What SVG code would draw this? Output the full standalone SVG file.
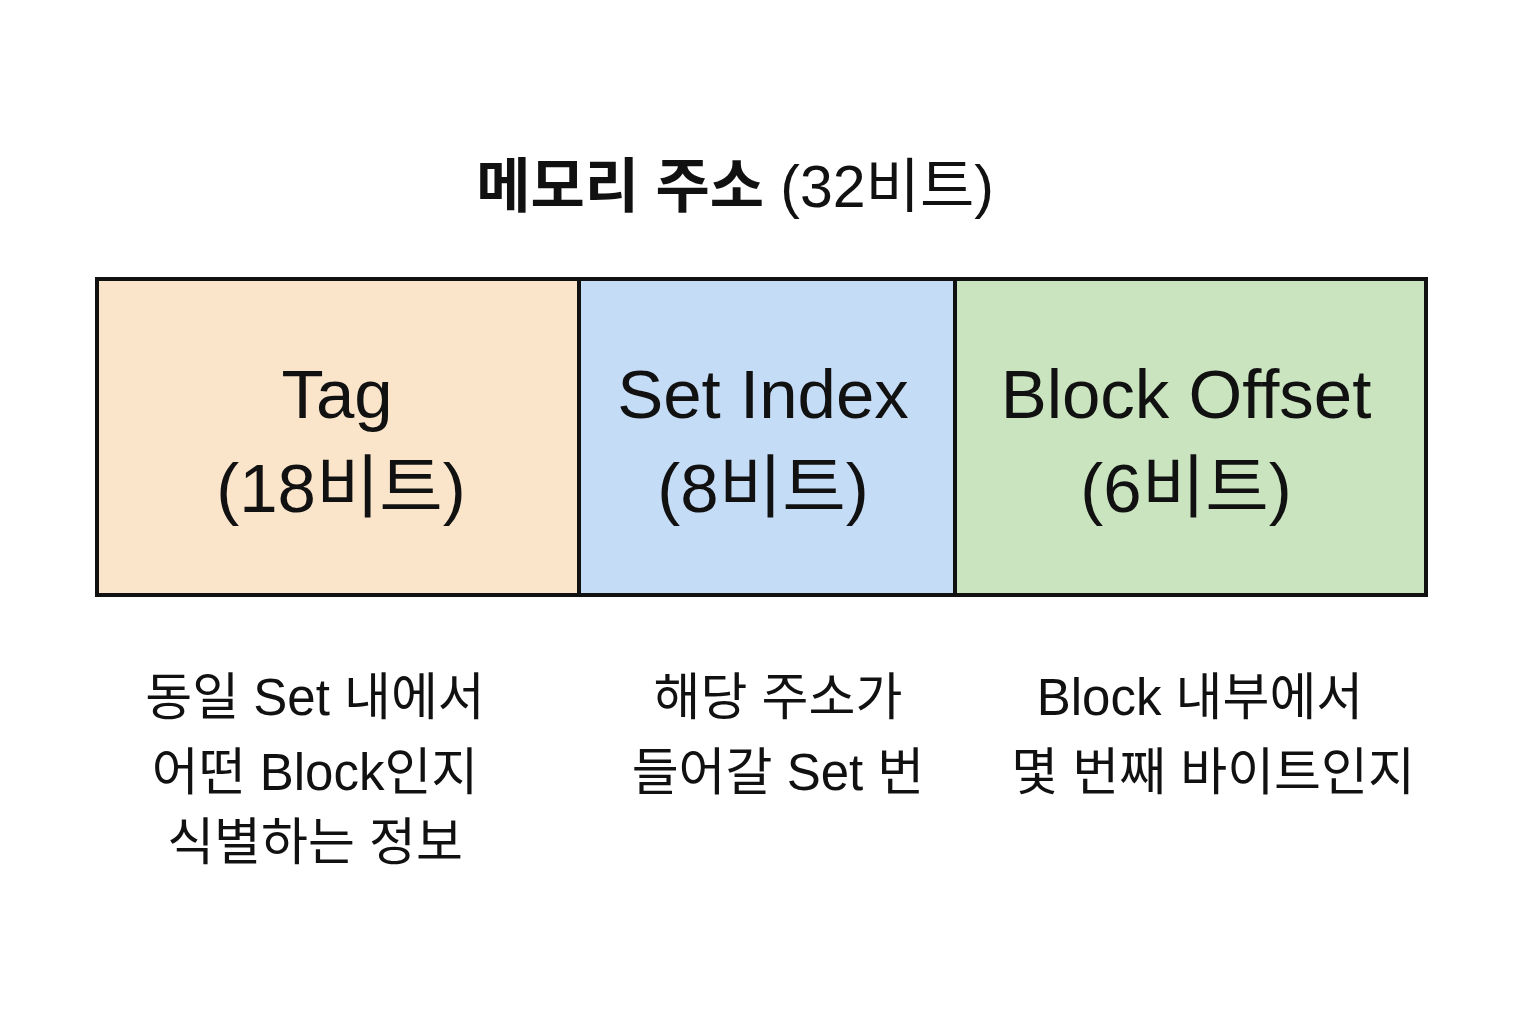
<svg xmlns="http://www.w3.org/2000/svg" width="1536" height="1024" viewBox="0 0 1536 1024">
<style>
text{font-family:"Liberation Sans","Noto Sans CJK KR",sans-serif;fill:#111;text-anchor:middle}
.big{font-size:69px}
.desc{font-size:51px}
.cell{stroke:#111;stroke-width:4}
</style>
<rect width="1536" height="1024" fill="#fff"/>
<g id="title"><text x="735" y="207" font-size="59"><tspan font-weight="bold">메모리 주소</tspan> (32비트)</text></g>
<g id="tag"><rect class="cell" x="97" y="279" width="482" height="316" fill="#FAE5CB"/>
<text class="big" x="337" y="418">Tag</text><text class="big" x="341" y="512">(18비트)</text></g>
<g id="setindex"><rect class="cell" x="579" y="279" width="376" height="316" fill="#C5DCF7"/>
<text class="big" x="763" y="418">Set Index</text><text class="big" x="763" y="512">(8비트)</text></g>
<g id="blockoffset"><rect class="cell" x="955" y="279" width="471" height="316" fill="#C9E4BF"/>
<text class="big" x="1186" y="418">Block Offset</text><text class="big" x="1186" y="512">(6비트)</text></g>
<g id="desc-tag"><text class="desc" x="315" y="715">동일 Set 내에서</text><text class="desc" x="315" y="790">어떤 Block인지</text><text class="desc" x="315" y="860">식별하는 정보</text></g>
<g id="desc-set"><text class="desc" x="778" y="715">해당 주소가</text><text class="desc" x="778" y="790">들어갈 Set 번</text></g>
<g id="desc-block"><text class="desc" x="1200" y="715">Block 내부에서</text><text class="desc" x="1213" y="790">몇 번째 바이트인지</text></g>
<g id="connectors"></g>
</svg>
